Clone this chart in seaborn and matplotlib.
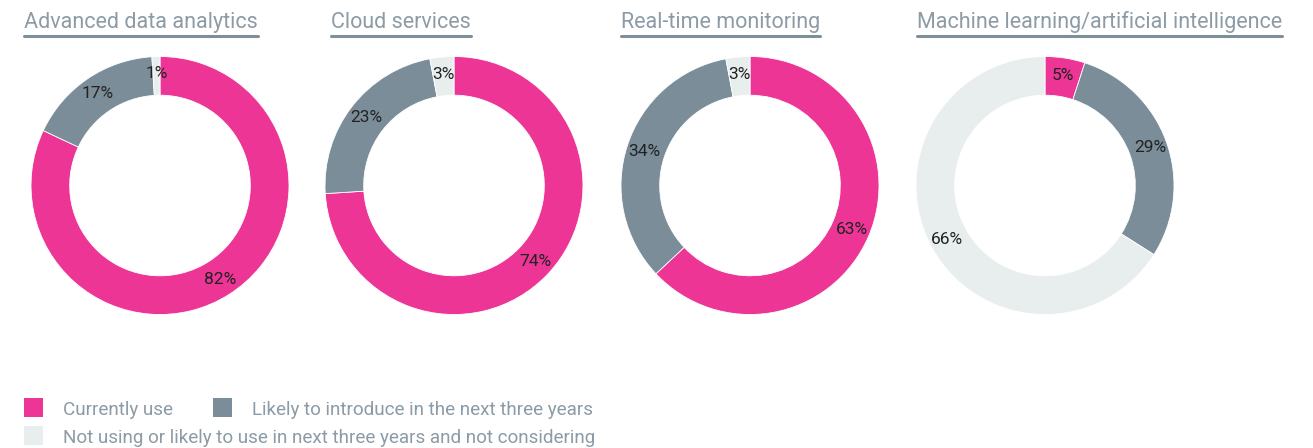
import numpy as np
import matplotlib
matplotlib.use("Agg")
import matplotlib.pyplot as plt
from matplotlib.lines import Line2D
from matplotlib.patches import Rectangle
import seaborn as sns

# ================================================
#  Datos
# ================================================
titulos = ["Advanced data analytics", "Cloud services",
           "Real-time monitoring", "Machine learning/artificial intelligence"]
categorias = ["Currently use", "Likely to introduce in the next three years",
              "Not using or likely to use in next three years and not considering"]
currently_use = [82, 74, 63, 5]
likely_introduce = [17, 23, 34, 29]
not_using = [1, 3, 3, 66]

colores = ["#EC3594", "#7A8D99", "#E8EEEE"]
gris_texto = "#8C9BA5"
gris_linea = "#7F8F9A"

sns.set_theme(style="white")
plt.rcParams['font.family'] = ['Roboto', 'DejaVu Sans']

W, H = 1313, 448
fig = plt.figure(figsize=(W / 100, H / 100), dpi=100)

# ================================================
#  Donas
# ================================================
centros_x = [160, 454, 750, 1045]
centro_y = 185.5
radio = 129
titulo_x = [24, 331, 621, 917]

for i, titulo in enumerate(titulos):
    cx = centros_x[i]
    ax = fig.add_axes([(cx - radio) / W, (H - centro_y - radio) / H,
                       2 * radio / W, 2 * radio / H])
    valores = [currently_use[i], likely_introduce[i], not_using[i]]
    wedges, textos, autotextos = ax.pie(
        valores, colors=colores, startangle=90, counterclock=False,
        radius=1, autopct=lambda p: f"{round(p)}%", pctdistance=0.865,
        wedgeprops=dict(width=0.30, edgecolor="white", linewidth=0.6),
        textprops=dict(fontsize=12.5, color="#222222"))
    ax.set_xlim(-1, 1)
    ax.set_ylim(-1, 1)
    ax.set_aspect("equal")
    ax.axis("off")

    # Titulo subrayado
    t = fig.text(titulo_x[i] / W, 1 - 28 / H, titulo, fontsize=15.5,
                 color=gris_texto, ha="left", va="baseline")
    fig.canvas.draw()
    bb = t.get_window_extent()
    fig.add_artist(Line2D([titulo_x[i] / W, bb.x1 / W], [1 - 36.5 / H] * 2,
                          color=gris_linea, linewidth=2.2,
                          transform=fig.transFigure))

# ================================================
#  Leyenda
# ================================================
leyenda = [(24, 398, 0), (213, 398, 1), (24, 426, 2)]
for x, y, k in leyenda:
    fig.add_artist(Rectangle((x / W, 1 - (y + 19) / H), 19 / W, 19 / H,
                             facecolor=colores[k], edgecolor="none",
                             transform=fig.transFigure))
    fig.text((x + 39) / W, 1 - (y + 11.5) / H, categorias[k], fontsize=13.6,
             color=gris_texto, ha="left", va="center")

fig.savefig("out.png", dpi=100)
